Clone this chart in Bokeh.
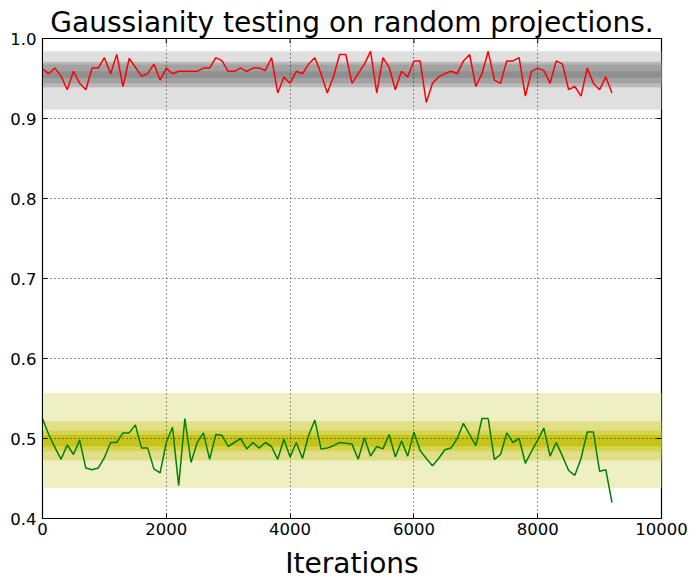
import math
from bokeh.plotting import figure
from bokeh.models import FixedTicker, Range1d, ColumnDataSource
from bokeh.embed import file_html
from bokeh.resources import INLINE

# ---- data ----
iterations = list(range(0, 9300, 100))

red_vals = [
    0.962, 0.956, 0.963, 0.953, 0.936, 0.959, 0.944, 0.936, 0.963, 0.963,
    0.976, 0.956, 0.980, 0.940, 0.975, 0.964, 0.953, 0.956, 0.968, 0.948,
    0.963, 0.956, 0.959, 0.959, 0.959, 0.959, 0.963, 0.963, 0.976, 0.972,
    0.959, 0.959, 0.963, 0.959, 0.963, 0.963, 0.960, 0.976, 0.932, 0.952,
    0.944, 0.959, 0.956, 0.968, 0.976, 0.956, 0.932, 0.952, 0.980, 0.980,
    0.944, 0.956, 0.968, 0.984, 0.932, 0.976, 0.964, 0.936, 0.959, 0.952,
    0.972, 0.972, 0.920, 0.944, 0.952, 0.956, 0.959, 0.956, 0.972, 0.980,
    0.940, 0.956, 0.984, 0.948, 0.944, 0.972, 0.972, 0.976, 0.928, 0.959,
    0.963, 0.960, 0.944, 0.972, 0.968, 0.936, 0.940, 0.928, 0.963, 0.944,
    0.936, 0.952, 0.932,
]

green_vals = [
    0.525, 0.505, 0.489, 0.474, 0.492, 0.480, 0.498, 0.463, 0.461, 0.463,
    0.476, 0.495, 0.495, 0.507, 0.507, 0.517, 0.488, 0.488, 0.462, 0.457,
    0.495, 0.514, 0.441, 0.525, 0.470, 0.495, 0.507, 0.474, 0.505, 0.504,
    0.490, 0.495, 0.500, 0.487, 0.495, 0.488, 0.495, 0.490, 0.474, 0.499,
    0.477, 0.495, 0.475, 0.504, 0.523, 0.487, 0.488, 0.491, 0.495, 0.494,
    0.493, 0.474, 0.501, 0.478, 0.490, 0.487, 0.505, 0.477, 0.497, 0.478,
    0.508, 0.485, 0.475, 0.466, 0.475, 0.486, 0.488, 0.500, 0.519, 0.505,
    0.491, 0.525, 0.525, 0.474, 0.480, 0.507, 0.495, 0.500, 0.469, 0.484,
    0.498, 0.513, 0.478, 0.495, 0.478, 0.460, 0.454, 0.475, 0.508, 0.508,
    0.459, 0.461, 0.420,
]

# nested percentile bands (outer -> inner)
gray_low = [0.911, 0.939, 0.944, 0.9505]
gray_high = [0.984, 0.971, 0.9675, 0.959]
gray_colors = ["#dfdfdf", "#b9b9b9", "#a2a2a2", "#8f8f8f"]

yellow_low = [0.438, 0.4725, 0.484, 0.490]
yellow_high = [0.557, 0.5215, 0.510, 0.5045]
yellow_colors = ["#efefc4", "#e0df88", "#d5d453", "#c6c416"]

x_ticks = [0, 2000, 4000, 6000, 8000, 10000]
y_ticks = [0.4, 0.5, 0.6, 0.7, 0.8, 0.9, 1.0]
X_MIN, X_MAX = 0, 10000
Y_MIN, Y_MAX = 0.4, 1.0

FONT = "DejaVu Sans"

p = figure(
    frame_width=619, frame_height=480,
    x_range=Range1d(X_MIN, X_MAX), y_range=Range1d(Y_MIN, Y_MAX),
    output_backend="svg", toolbar_location=None,
    title="Gaussianity testing on random projections.",
    min_border_left=42, min_border_right=37, min_border_top=38, min_border_bottom=69,
)
p.background_fill_color = "white"
p.border_fill_color = "white"
p.outline_line_color = "black"
p.outline_line_width = 1.2

p.title.text_font = FONT
p.title.text_font_size = "28px"
p.title.text_font_style = "normal"
p.title.text_color = "black"
p.title.align = "center"
p.title.standoff = 0
p.title.offset = 0

# bands
for lows, highs, cols in ((gray_low, gray_high, gray_colors), (yellow_low, yellow_high, yellow_colors)):
    src = ColumnDataSource(dict(
        bottom=lows, top=highs, left=[X_MIN] * len(lows), right=[X_MAX] * len(lows), color=cols))
    r = p.quad(left="left", right="right", bottom="bottom", top="top", source=src,
               fill_color="color", line_color=None)
    r.level = "image"

p.line(iterations, red_vals, line_color="#ff0000", line_width=1.5)
p.line(iterations, green_vals, line_color="#008000", line_width=1.5)

# axes styling
for ax in (p.xaxis[0], p.yaxis[0]):
    ax.major_label_text_font = FONT
    ax.major_label_text_font_size = "16.5px"
    ax.major_label_text_color = "black"
    ax.major_tick_in = 5
    ax.major_tick_out = 0
    ax.minor_tick_in = 0
    ax.minor_tick_out = 0
    ax.axis_line_color = "black"
    ax.major_tick_line_color = "black"

p.xaxis.ticker = FixedTicker(ticks=x_ticks)
p.yaxis.ticker = FixedTicker(ticks=y_ticks)
p.yaxis.major_label_overrides = {t: f"{t:.1f}" for t in y_ticks}
p.xaxis.major_label_standoff = 4
p.yaxis.major_label_standoff = 6
p.xaxis.axis_label = "Iterations"
p.xaxis.axis_label_text_font = FONT
p.xaxis.axis_label_text_font_size = "28px"
p.xaxis.axis_label_text_font_style = "normal"
p.xaxis.axis_label_text_color = "black"
p.xaxis.axis_label_standoff = 9

# inward ticks on top and right edges (clipped to the frame -> half shows)
p.scatter(x_ticks, [Y_MAX] * len(x_ticks), marker="dash", angle=math.pi / 2, size=10,
          line_color="black", line_width=1)
p.scatter([X_MAX] * len(y_ticks), y_ticks, marker="dash", size=10,
          line_color="black", line_width=1)

# grid
for g in (p.xgrid[0], p.ygrid[0]):
    g.grid_line_color = "black"
    g.grid_line_dash = "1 3"
    g.grid_line_width = 1
    g.grid_line_alpha = 0.8
p.xgrid.ticker = FixedTicker(ticks=x_ticks)
p.ygrid.ticker = FixedTicker(ticks=y_ticks)

open("out.html", "w").write(file_html(p, INLINE))
